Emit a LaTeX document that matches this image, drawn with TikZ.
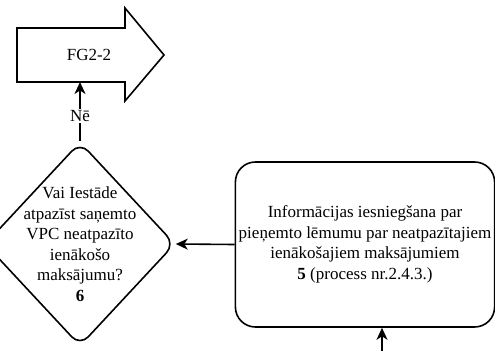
\documentclass[tikz,border=0pt]{standalone}
\usepackage{fontspec}
\setmainfont{Liberation Serif}
\usetikzlibrary{shapes.geometric,arrows.meta}
\begin{document}
\begin{tikzpicture}[x=1pt,y=-1pt,font=\fontsize{17}{20.5}\selectfont]
        \tikzstyle{decision_style} = [diamond,draw=black,line width=1.6pt,rounded corners=12pt,minimum width=190pt,minimum height=204pt,inner sep=0pt]
        \tikzstyle{process_style} = [rectangle,draw=black,line width=1.6pt,rounded corners=20pt,minimum width=256pt,minimum height=165pt,align=center]
        \tikzstyle{text_style} = [align=center,inner sep=0pt]
        \tikzstyle{edge_style} = [draw=black,line width=1.6pt,-{Stealth[length=12pt,width=11pt,inset=3.5pt]}]
        \useasboundingbox (0,0) rectangle (495,351);
        % outgoing arrow shape
        \draw[line width=1.6pt,line join=miter] (17,28) -- (125,28) -- (125,8) -- (164,55) -- (125,101) -- (125,82) -- (17,82) -- cycle;
        \node[text_style] (fg) at (89,55) {FG2-2};
        \coordinate (fg_bottom) at (80,82);
        % decision and process
        \node[decision_style] (v6) at (80,244) {};
        \node[text_style] (v6_text) at (v6.center) {Vai Iestāde\\atpazīst saņemto\\VPC neatpazīto\\ienākošo\\maksājumu?\\\textbf{6}};
        \node[process_style] (v5) at (365,244.5) {Informācijas iesniegšana par\\pieņemto lēmumu par neatpazītajiem\\ienākošajiem maksājumiem\\\textbf{5} (process nr.2.4.3.)};
        \coordinate (v5_in) at (382,351);
        % connectors
        \draw[edge_style] (v6.north) -- (fg_bottom) node[pos=0.42,fill=white,inner sep=1.5pt] {Nē};
        \draw[edge_style] (v5.west) -- (v6.east);
        \draw[edge_style] (v5_in) -- (v5_in |- v5.south);
      \end{tikzpicture}
\end{document}
